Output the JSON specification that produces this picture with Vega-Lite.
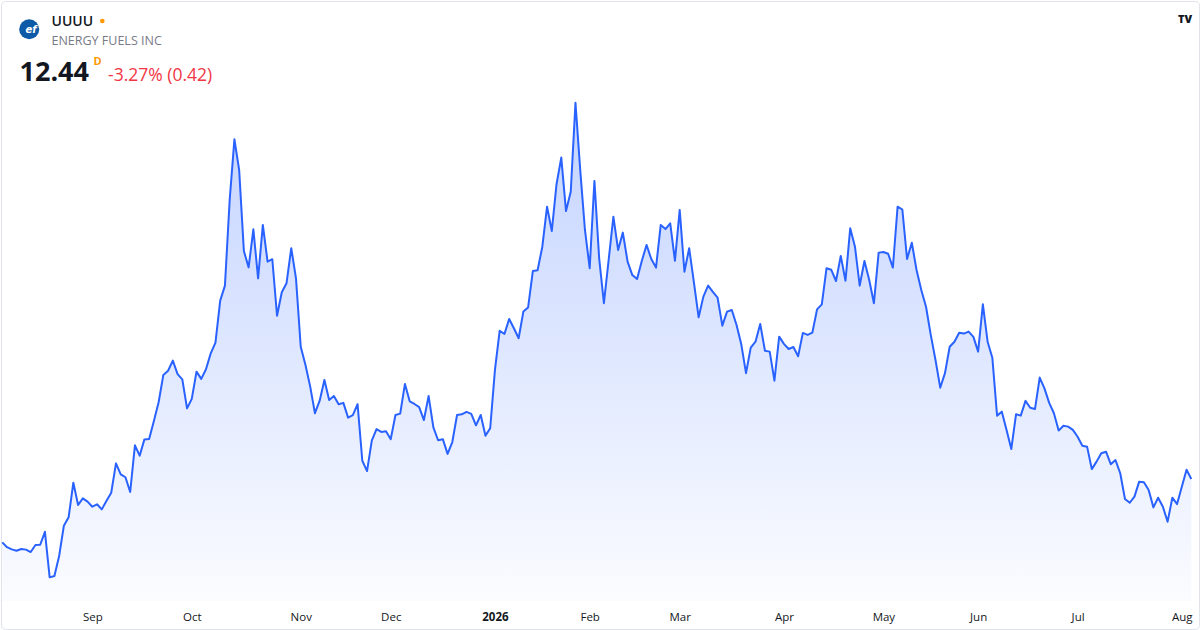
{
  "$schema": "https://vega.github.io/schema/vega-lite/v6.json",
  "width": 1198,
  "height": 628,
  "autosize": {"type": "none"},
  "padding": {"left": 1, "top": 1, "right": 1, "bottom": 1},
  "background": "white",
  "config": {
    "view": {"stroke": "#e0e3eb", "cornerRadius": 4},
    "font": "Open Sans",
    "text": {"font": "Open Sans"}
  },
  "datasets": {
    "prices": [
      {"date": "2025-08-05", "close": 9.56}, {"date": "2025-08-06", "close": 9.34}, {"date": "2025-08-07", "close": 9.24},
      {"date": "2025-08-08", "close": 9.18}, {"date": "2025-08-11", "close": 9.26}, {"date": "2025-08-12", "close": 9.23},
      {"date": "2025-08-13", "close": 9.12}, {"date": "2025-08-14", "close": 9.44}, {"date": "2025-08-15", "close": 9.45},
      {"date": "2025-08-18", "close": 10.04}, {"date": "2025-08-19", "close": 7.97}, {"date": "2025-08-20", "close": 8.03},
      {"date": "2025-08-21", "close": 8.94}, {"date": "2025-08-22", "close": 10.32}, {"date": "2025-08-25", "close": 10.70},
      {"date": "2025-08-26", "close": 12.27}, {"date": "2025-08-27", "close": 11.26}, {"date": "2025-08-28", "close": 11.56},
      {"date": "2025-08-29", "close": 11.41},
      {"date": "2025-09-02", "close": 11.18}, {"date": "2025-09-03", "close": 11.29}, {"date": "2025-09-04", "close": 11.06},
      {"date": "2025-09-05", "close": 11.45}, {"date": "2025-09-08", "close": 11.82}, {"date": "2025-09-09", "close": 13.15},
      {"date": "2025-09-10", "close": 12.65}, {"date": "2025-09-11", "close": 12.52}, {"date": "2025-09-12", "close": 11.85},
      {"date": "2025-09-15", "close": 13.97}, {"date": "2025-09-16", "close": 13.50}, {"date": "2025-09-17", "close": 14.24},
      {"date": "2025-09-18", "close": 14.26}, {"date": "2025-09-19", "close": 15.08}, {"date": "2025-09-22", "close": 15.93},
      {"date": "2025-09-23", "close": 17.17}, {"date": "2025-09-24", "close": 17.36}, {"date": "2025-09-25", "close": 17.82},
      {"date": "2025-09-26", "close": 17.21}, {"date": "2025-09-29", "close": 16.97}, {"date": "2025-09-30", "close": 15.65},
      {"date": "2025-10-01", "close": 16.08}, {"date": "2025-10-02", "close": 17.32}, {"date": "2025-10-03", "close": 16.99},
      {"date": "2025-10-06", "close": 17.43}, {"date": "2025-10-07", "close": 18.15}, {"date": "2025-10-08", "close": 18.64},
      {"date": "2025-10-09", "close": 20.55}, {"date": "2025-10-10", "close": 21.23}, {"date": "2025-10-13", "close": 25.12},
      {"date": "2025-10-14", "close": 27.88}, {"date": "2025-10-15", "close": 26.49}, {"date": "2025-10-16", "close": 22.80},
      {"date": "2025-10-17", "close": 22.06}, {"date": "2025-10-20", "close": 23.79}, {"date": "2025-10-21", "close": 21.56},
      {"date": "2025-10-22", "close": 23.99}, {"date": "2025-10-23", "close": 22.32}, {"date": "2025-10-24", "close": 22.43},
      {"date": "2025-10-27", "close": 19.86}, {"date": "2025-10-28", "close": 20.93}, {"date": "2025-10-29", "close": 21.34},
      {"date": "2025-10-30", "close": 22.93}, {"date": "2025-10-31", "close": 21.56},
      {"date": "2025-11-03", "close": 18.45}, {"date": "2025-11-04", "close": 17.62}, {"date": "2025-11-05", "close": 16.64},
      {"date": "2025-11-06", "close": 15.43}, {"date": "2025-11-07", "close": 16.00}, {"date": "2025-11-10", "close": 16.94},
      {"date": "2025-11-11", "close": 16.03}, {"date": "2025-11-12", "close": 16.21}, {"date": "2025-11-13", "close": 15.84},
      {"date": "2025-11-14", "close": 15.90}, {"date": "2025-11-17", "close": 15.23}, {"date": "2025-11-18", "close": 15.34},
      {"date": "2025-11-19", "close": 15.84}, {"date": "2025-11-20", "close": 13.27}, {"date": "2025-11-21", "close": 12.80},
      {"date": "2025-11-24", "close": 14.18}, {"date": "2025-11-25", "close": 14.71}, {"date": "2025-11-26", "close": 14.58},
      {"date": "2025-11-28", "close": 14.61},
      {"date": "2025-12-01", "close": 14.25}, {"date": "2025-12-02", "close": 15.35}, {"date": "2025-12-03", "close": 15.41},
      {"date": "2025-12-04", "close": 16.76}, {"date": "2025-12-05", "close": 15.97}, {"date": "2025-12-08", "close": 15.85},
      {"date": "2025-12-09", "close": 15.71}, {"date": "2025-12-10", "close": 15.12}, {"date": "2025-12-11", "close": 16.21},
      {"date": "2025-12-12", "close": 14.79}, {"date": "2025-12-15", "close": 14.20}, {"date": "2025-12-16", "close": 14.25},
      {"date": "2025-12-17", "close": 13.58}, {"date": "2025-12-18", "close": 14.12}, {"date": "2025-12-19", "close": 15.35},
      {"date": "2025-12-22", "close": 15.38}, {"date": "2025-12-23", "close": 15.49}, {"date": "2025-12-24", "close": 15.40},
      {"date": "2025-12-26", "close": 14.88}, {"date": "2025-12-29", "close": 15.35}, {"date": "2025-12-30", "close": 14.41},
      {"date": "2025-12-31", "close": 14.75},
      {"date": "2026-01-02", "close": 17.40}, {"date": "2026-01-05", "close": 19.18}, {"date": "2026-01-06", "close": 19.03},
      {"date": "2026-01-07", "close": 19.71}, {"date": "2026-01-08", "close": 19.29}, {"date": "2026-01-09", "close": 18.84},
      {"date": "2026-01-12", "close": 20.05}, {"date": "2026-01-13", "close": 20.24}, {"date": "2026-01-14", "close": 21.89},
      {"date": "2026-01-15", "close": 21.93}, {"date": "2026-01-16", "close": 23.00}, {"date": "2026-01-20", "close": 24.82},
      {"date": "2026-01-21", "close": 23.71}, {"date": "2026-01-22", "close": 25.84}, {"date": "2026-01-23", "close": 27.05},
      {"date": "2026-01-26", "close": 24.62}, {"date": "2026-01-27", "close": 25.50}, {"date": "2026-01-28", "close": 29.54},
      {"date": "2026-01-29", "close": 26.49}, {"date": "2026-01-30", "close": 23.76},
      {"date": "2026-02-02", "close": 22.02}, {"date": "2026-02-03", "close": 25.99}, {"date": "2026-02-04", "close": 22.47},
      {"date": "2026-02-05", "close": 20.43}, {"date": "2026-02-06", "close": 22.39}, {"date": "2026-02-09", "close": 24.36},
      {"date": "2026-02-10", "close": 22.85}, {"date": "2026-02-11", "close": 23.64}, {"date": "2026-02-12", "close": 22.32},
      {"date": "2026-02-13", "close": 21.71}, {"date": "2026-02-17", "close": 21.53}, {"date": "2026-02-18", "close": 22.35},
      {"date": "2026-02-19", "close": 23.08}, {"date": "2026-02-20", "close": 22.44}, {"date": "2026-02-23", "close": 22.05},
      {"date": "2026-02-24", "close": 23.99}, {"date": "2026-02-25", "close": 23.80}, {"date": "2026-02-26", "close": 24.06},
      {"date": "2026-02-27", "close": 22.36},
      {"date": "2026-03-02", "close": 24.67}, {"date": "2026-03-03", "close": 21.86}, {"date": "2026-03-04", "close": 22.93},
      {"date": "2026-03-05", "close": 21.38}, {"date": "2026-03-06", "close": 19.79}, {"date": "2026-03-09", "close": 20.73},
      {"date": "2026-03-10", "close": 21.23}, {"date": "2026-03-11", "close": 20.95}, {"date": "2026-03-12", "close": 20.68},
      {"date": "2026-03-13", "close": 19.41}, {"date": "2026-03-16", "close": 20.05}, {"date": "2026-03-17", "close": 20.12},
      {"date": "2026-03-18", "close": 19.44}, {"date": "2026-03-19", "close": 18.56}, {"date": "2026-03-20", "close": 17.25},
      {"date": "2026-03-23", "close": 18.41}, {"date": "2026-03-24", "close": 18.68}, {"date": "2026-03-25", "close": 19.49},
      {"date": "2026-03-26", "close": 18.27}, {"date": "2026-03-27", "close": 18.23}, {"date": "2026-03-30", "close": 16.91},
      {"date": "2026-03-31", "close": 18.91},
      {"date": "2026-04-01", "close": 18.58}, {"date": "2026-04-02", "close": 18.35}, {"date": "2026-04-06", "close": 18.44},
      {"date": "2026-04-07", "close": 18.02}, {"date": "2026-04-08", "close": 19.08}, {"date": "2026-04-09", "close": 18.99},
      {"date": "2026-04-10", "close": 19.09}, {"date": "2026-04-13", "close": 20.15}, {"date": "2026-04-14", "close": 20.38},
      {"date": "2026-04-15", "close": 22.02}, {"date": "2026-04-16", "close": 21.95}, {"date": "2026-04-17", "close": 21.44},
      {"date": "2026-04-20", "close": 22.58}, {"date": "2026-04-21", "close": 21.45}, {"date": "2026-04-22", "close": 23.84},
      {"date": "2026-04-23", "close": 23.00}, {"date": "2026-04-24", "close": 21.23}, {"date": "2026-04-27", "close": 22.35},
      {"date": "2026-04-28", "close": 21.50}, {"date": "2026-04-29", "close": 20.43}, {"date": "2026-04-30", "close": 22.73},
      {"date": "2026-05-01", "close": 22.76}, {"date": "2026-05-04", "close": 22.68}, {"date": "2026-05-05", "close": 22.05},
      {"date": "2026-05-06", "close": 24.82}, {"date": "2026-05-07", "close": 24.69}, {"date": "2026-05-08", "close": 22.44},
      {"date": "2026-05-11", "close": 23.18}, {"date": "2026-05-12", "close": 21.94}, {"date": "2026-05-13", "close": 21.03},
      {"date": "2026-05-14", "close": 20.27}, {"date": "2026-05-15", "close": 18.99}, {"date": "2026-05-18", "close": 17.85},
      {"date": "2026-05-19", "close": 16.59}, {"date": "2026-05-20", "close": 17.25}, {"date": "2026-05-21", "close": 18.45},
      {"date": "2026-05-22", "close": 18.68}, {"date": "2026-05-26", "close": 19.09}, {"date": "2026-05-27", "close": 19.05},
      {"date": "2026-05-28", "close": 19.14}, {"date": "2026-05-29", "close": 18.90},
      {"date": "2026-06-01", "close": 18.23}, {"date": "2026-06-02", "close": 20.38}, {"date": "2026-06-03", "close": 18.68},
      {"date": "2026-06-04", "close": 17.95}, {"date": "2026-06-05", "close": 15.32}, {"date": "2026-06-08", "close": 15.50},
      {"date": "2026-06-09", "close": 14.67}, {"date": "2026-06-10", "close": 13.80}, {"date": "2026-06-11", "close": 15.38},
      {"date": "2026-06-12", "close": 15.32}, {"date": "2026-06-15", "close": 15.99}, {"date": "2026-06-16", "close": 15.68},
      {"date": "2026-06-17", "close": 15.62}, {"date": "2026-06-18", "close": 17.05}, {"date": "2026-06-22", "close": 16.56},
      {"date": "2026-06-23", "close": 15.90}, {"date": "2026-06-24", "close": 15.43}, {"date": "2026-06-25", "close": 14.64},
      {"date": "2026-06-26", "close": 14.86}, {"date": "2026-06-29", "close": 14.82}, {"date": "2026-06-30", "close": 14.67},
      {"date": "2026-07-01", "close": 14.36}, {"date": "2026-07-02", "close": 13.95}, {"date": "2026-07-06", "close": 13.91},
      {"date": "2026-07-07", "close": 12.89}, {"date": "2026-07-08", "close": 13.23}, {"date": "2026-07-09", "close": 13.61},
      {"date": "2026-07-10", "close": 13.68}, {"date": "2026-07-13", "close": 13.11}, {"date": "2026-07-14", "close": 13.30},
      {"date": "2026-07-15", "close": 12.70}, {"date": "2026-07-16", "close": 11.53}, {"date": "2026-07-17", "close": 11.36},
      {"date": "2026-07-20", "close": 11.64}, {"date": "2026-07-21", "close": 12.32}, {"date": "2026-07-22", "close": 12.29},
      {"date": "2026-07-23", "close": 11.94}, {"date": "2026-07-24", "close": 11.15}, {"date": "2026-07-27", "close": 11.59},
      {"date": "2026-07-28", "close": 11.18}, {"date": "2026-07-29", "close": 10.50}, {"date": "2026-07-30", "close": 11.59},
      {"date": "2026-07-31", "close": 11.30},
      {"date": "2026-08-03", "close": 12.09}, {"date": "2026-08-04", "close": 12.86}, {"date": "2026-08-05", "close": 12.44}
    ]
  },
  "layer": [
    {
      "data": {"name": "prices"},
      "encoding": {
        "x": {
          "field": "date",
          "type": "ordinal",
          "sort": "ascending",
          "scale": {"type": "point", "padding": 0.95, "align": 0.144},
          "axis": {
            "values": ["2025-09-02", "2025-10-01", "2025-11-03", "2025-12-01", "2026-01-02", "2026-02-02", "2026-03-02", "2026-04-01", "2026-05-01", "2026-06-01", "2026-07-01", "2026-08-03"],
            "labelExpr": "datum.value == '2026-01-02' ? '2026' : utcFormat(toDate(datum.value), '%b')",
            "labelAngle": 0,
            "ticks": false,
            "tickSize": 0,
            "domain": false,
            "grid": false,
            "title": null,
            "offset": -28,
            "labelPadding": 19.5,
            "labelBaseline": "alphabetic",
            "labelFont": "Open Sans",
            "labelFontSize": 11.5,
            "labelColor": "#131722",
            "labelOverlap": false,
            "labelFontWeight": {"condition": {"test": "datum.value == '2026-01-02'", "value": "bold"}, "value": "normal"}
          }
        },
        "y": {
          "field": "close",
          "type": "quantitative",
          "scale": {"domain": [5.6218, 34.1673], "nice": false, "zero": false},
          "axis": null
        }
      },
      "layer": [
        {
          "mark": {
            "type": "area",
            "fill": {
              "gradient": "linear",
              "x1": 0, "y1": 0, "x2": 0, "y2": 1,
              "stops": [
                {"offset": 0, "color": "rgba(41,98,255,0.28)"},
                {"offset": 1, "color": "rgba(41,98,255,0.02)"}
              ]
            }
          },
          "encoding": {"y2": {"datum": 6.8945}}
        },
        {
          "mark": {"type": "line", "color": "#2962ff", "strokeWidth": 2, "strokeJoin": "round"},
          "encoding": {}
        }
      ]
    },
    {
      "data": {"values": [{}]},
      "mark": {"type": "point", "shape": "circle", "filled": true, "color": "#0d5aa7", "opacity": 1, "size": 400, "x": 28.2, "y": 28.2}
    },
    {
      "data": {"values": [{}]},
      "mark": {"type": "text", "text": "ef", "font": "DejaVu Sans", "fontStyle": "italic", "fontWeight": "bold", "fontSize": 10, "color": "white", "align": "center", "baseline": "middle", "x": 30, "y": 29}
    },
    {
      "data": {"values": [{}]},
      "mark": {"type": "text", "text": "UUUU", "fontSize": 14, "fontWeight": 600, "color": "#131722", "align": "left", "baseline": "alphabetic", "x": 50.5, "y": 24.5}
    },
    {
      "data": {"values": [{}]},
      "mark": {"type": "point", "shape": "circle", "filled": true, "color": "#ff9800", "opacity": 1, "size": 22, "x": 101.3, "y": 20}
    },
    {
      "data": {"values": [{}]},
      "mark": {"type": "text", "text": "ENERGY FUELS INC", "fontSize": 12.5, "color": "#787b86", "align": "left", "baseline": "alphabetic", "x": 50.5, "y": 44}
    },
    {
      "data": {"values": [{}]},
      "mark": {"type": "text", "text": "12.44", "fontSize": 27, "fontWeight": "bold", "color": "#131722", "align": "left", "baseline": "alphabetic", "x": 18.5, "y": 80}
    },
    {
      "data": {"values": [{}]},
      "mark": {"type": "text", "text": "D", "fontSize": 11, "fontWeight": "bold", "color": "#ff9800", "align": "left", "baseline": "alphabetic", "x": 92.5, "y": 64}
    },
    {
      "data": {"values": [{}]},
      "mark": {"type": "text", "text": "-3.27% (0.42)", "fontSize": 17.5, "color": "#f23645", "align": "left", "baseline": "alphabetic", "x": 107, "y": 80}
    },
    {
      "data": {"values": [{}]},
      "mark": {"type": "text", "text": "TV", "fontSize": 11, "fontWeight": 900, "color": "#131722", "align": "center", "baseline": "middle", "x": 1184, "y": 19}
    }
  ]
}
